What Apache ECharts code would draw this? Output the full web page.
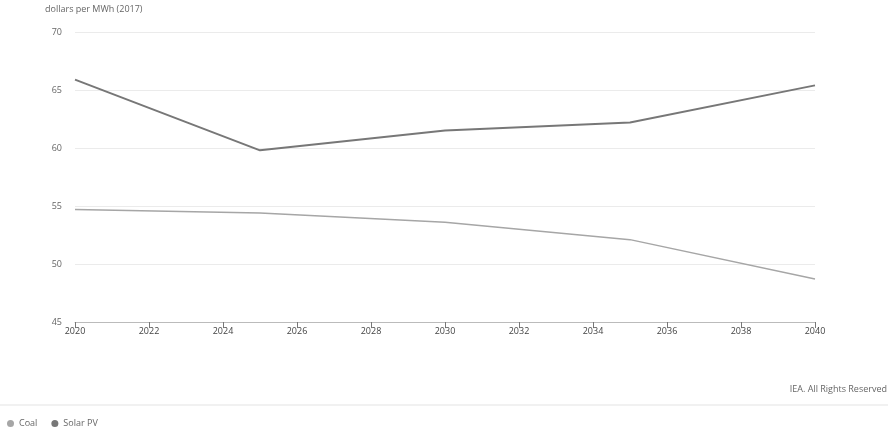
<!DOCTYPE html>
<html>
<head>
<meta charset="utf-8">
<script src="https://cdn.jsdelivr.net/npm/echarts@6/dist/echarts.min.js"></script>
<style>
  html, body { margin: 0; padding: 0; background: #fff; }
  #chart { width: 894px; height: 428px; }
</style>
</head>
<body>
<div id="chart"></div>
<script>
// values
var years = [2020, 2025, 2030, 2035, 2040]
var coal = [54.7, 54.4, 53.6, 52.1, 48.7]
var solarPV = [65.9, 59.8, 61.5, 62.2, 65.4]

var myChart = echarts.init(document.getElementById('chart'))
var textColor = '#666'
myChart.setOption({
  animation: false,
  color: ['#a6a6a6', '#777777'],
  grid: {
    top: 32,
    left: 75,
    right: 79,
    bottom: 106
  },
  graphic: [
    {
      type: 'text',
      left: 45,
      top: 5,
      style: { text: 'dollars per MWh (2017)', fill: textColor, font: '9px "Open Sans"' }
    },
    {
      type: 'text',
      right: 7,
      top: 385,
      style: { text: 'IEA. All Rights Reserved', fill: textColor, font: '9px "Open Sans"' }
    },
    {
      type: 'line',
      shape: { x1: 0, y1: 405, x2: 888, y2: 405 },
      style: { stroke: '#e3e3e3', lineWidth: 1 }
    }
  ],
  legend: {
    left: 2,
    top: 414,
    itemWidth: 7,
    itemHeight: 7,
    itemGap: 14,
    icon: 'circle',
    textStyle: { color: textColor, fontSize: 9, fontFamily: 'Open Sans' },
    data: ['Coal', 'Solar PV']
  },
  xAxis: {
    type: 'value',
    min: 2020,
    max: 2040,
    interval: 2,
    axisLine: { show: true, lineStyle: { color: '#bbb' } },
    axisTick: { show: true, length: 6, lineStyle: { color: '#777' } },
    splitLine: { show: false },
    axisLabel: {
      color: '#444',
      fontSize: 9,
      fontFamily: 'Open Sans',
      margin: 5,
      formatter: function (v) { return String(v) }
    }
  },
  yAxis: {
    type: 'value',
    min: 45,
    max: 70,
    interval: 5,
    axisLine: { show: false },
    axisTick: { show: false },
    splitLine: { lineStyle: { color: '#ebebeb' } },
    axisLabel: { color: textColor, fontSize: 9, fontFamily: 'Open Sans', margin: 13 }
  },
  series: [
    {
      name: 'Coal',
      type: 'line',
      symbol: 'none',
      lineStyle: { width: 1.5, color: '#a6a6a6' },
      data: years.map(function (y, i) { return [y, coal[i]] })
    },
    {
      name: 'Solar PV',
      type: 'line',
      symbol: 'none',
      lineStyle: { width: 2, color: '#777777' },
      data: years.map(function (y, i) { return [y, solarPV[i]] })
    }
  ]
})
</script>
</body>
</html>
